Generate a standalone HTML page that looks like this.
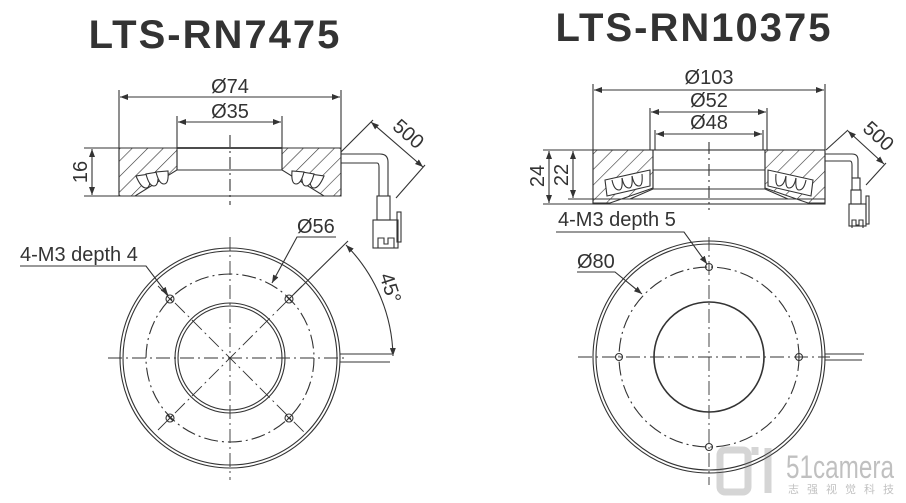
<!DOCTYPE html>
<html><head><meta charset="utf-8"><style>
html,body{margin:0;padding:0;background:#fff;}
svg{display:block;}
text{font-family:"Liberation Sans",Arial,sans-serif;fill:#333;}
</style></head><body>
<svg width="906" height="503" viewBox="0 0 906 503" xmlns="http://www.w3.org/2000/svg">
<defs>
<pattern id="h" patternUnits="userSpaceOnUse" width="11" height="11" patternTransform="rotate(45)">
<rect width="11" height="11" fill="#fff"/><line x1="0" y1="0" x2="0" y2="11" stroke="#333" stroke-width="1.2"/>
</pattern>
<marker id="a" markerWidth="8" markerHeight="6" refX="8" refY="3" orient="auto-start-reverse" markerUnits="userSpaceOnUse"><path d="M0,0 L8,3 L0,6z" fill="#333"/></marker>
</defs>
<g stroke="#333" fill="none" stroke-width="1.1">
<!-- titles -->
<text x="215" y="48" font-size="40" font-weight="bold" text-anchor="middle" stroke="none" fill="#2a2a2a" letter-spacing="2">LTS-RN7475</text>
<text x="694" y="41" font-size="40" font-weight="bold" text-anchor="middle" stroke="none" fill="#2a2a2a" letter-spacing="2">LTS-RN10375</text>

<!-- LEFT SIDE VIEW -->
<line x1="119" y1="90" x2="119" y2="148"/><line x1="341" y1="90" x2="341" y2="148"/>
<line x1="120" y1="97" x2="340" y2="97" marker-start="url(#a)" marker-end="url(#a)"/>
<text x="230" y="93" font-size="20" text-anchor="middle" stroke="none">Ø74</text>
<line x1="177" y1="116" x2="177" y2="148"/><line x1="282" y1="116" x2="282" y2="148"/>
<line x1="178" y1="122" x2="281" y2="122" marker-start="url(#a)" marker-end="url(#a)"/>
<text x="230" y="118" font-size="20" text-anchor="middle" stroke="none">Ø35</text>
<path d="M119,148 H177 V170 L135,196 H119 Z" fill="url(#h)"/>
<path d="M341,148 H282 V170 L324,196 H341 Z" fill="url(#h)"/>
<rect x="119" y="148" width="222" height="48" rx="2"/>
<line x1="177" y1="148" x2="282" y2="148" stroke-width="1.8"/>
<line x1="177" y1="170" x2="282" y2="170"/>
<line x1="177" y1="150" x2="177" y2="170"/><line x1="282" y1="150" x2="282" y2="170"/>
<g fill="#fff"><path d="M136,176 q5,12 10,12 q5,0 4,-14z"/><path d="M146,174 q3,12 8,12 q5,0 4,-14z"/><path d="M156,172 q3,12 8,12 q5,0 4,-13z"/>
<path d="M324,176 q-5,12 -10,12 q-5,0 -4,-14z"/><path d="M314,174 q-3,12 -8,12 q-5,0 -4,-14z"/><path d="M304,172 q-3,12 -8,12 q-5,0 -4,-13z"/></g>
<line x1="230" y1="135" x2="230" y2="205" stroke-dasharray="12,4,2,4"/>
<line x1="84" y1="148" x2="119" y2="148"/><line x1="84" y1="196" x2="119" y2="196"/>
<line x1="92" y1="149" x2="92" y2="195" marker-start="url(#a)" marker-end="url(#a)"/>
<text x="0" y="0" font-size="20" text-anchor="middle" stroke="none" transform="translate(87,172) rotate(-90)">16</text>
<!-- cable -->
<path d="M341,154 H380 q8,0 8,8 V178"/><path d="M341,163 H377 q2,0 2,4 V178"/>
<path d="M379,178 V196 M388,178 V196"/>
<rect x="377" y="196" width="13" height="24"/>
<rect x="373" y="220" width="25" height="28"/>
<path d="M378,248 V238 h6 v6 h4 v-6 h6 v10"/>
<rect x="397" y="212" width="4" height="30"/>
<line x1="341" y1="152" x2="373" y2="120"/><line x1="396" y1="198" x2="425" y2="165"/>
<line x1="371" y1="122" x2="423" y2="167" marker-start="url(#a)" marker-end="url(#a)"/>
<text x="0" y="0" font-size="20" text-anchor="middle" stroke="none" transform="translate(404,139) rotate(41)">500</text>

<!-- LEFT TOP VIEW -->
<circle cx="230" cy="358" r="110"/><circle cx="230" cy="358" r="107"/>
<circle cx="230" cy="358" r="84" stroke-dasharray="14,4,2,4"/>
<circle cx="230" cy="358" r="55"/><circle cx="230" cy="358" r="52"/>
<g stroke-dasharray="14,4,2,4" stroke-width="0.9">
<line x1="108" y1="358" x2="345" y2="358"/><line x1="230" y1="237" x2="230" y2="480"/>
<line x1="158" y1="286" x2="305" y2="433"/><line x1="158" y1="430" x2="302" y2="286"/>
</g>
<g><circle cx="170" cy="299" r="4"/><circle cx="289" cy="299" r="4"/><circle cx="170" cy="418" r="4"/><circle cx="289" cy="418" r="4"/>
<path d="M167,296l6,6M173,296l-6,6M286,296l6,6M292,296l-6,6M167,415l6,6M173,415l-6,6M286,415l6,6M292,415l-6,6"/></g>
<line x1="340" y1="354" x2="392" y2="354"/><line x1="340" y1="362" x2="390" y2="362"/>
<line x1="292" y1="296" x2="348" y2="241"/>
<path d="M346,245 A163,163 0 0 1 393,356" marker-start="url(#a)" marker-end="url(#a)"/>
<text x="0" y="0" font-size="20" text-anchor="middle" stroke="none" transform="translate(384,290) rotate(72)">45°</text>
<text x="20" y="261" font-size="20" stroke="none">4-M3 depth 4</text>
<path d="M20,266 H146 L168,295" marker-end="url(#a)"/>
<text x="297" y="233" font-size="20" stroke="none">Ø56</text>
<path d="M336,237 H297 L272,283" marker-end="url(#a)"/>

<!-- RIGHT SIDE VIEW -->
<line x1="593" y1="84" x2="593" y2="150"/><line x1="825" y1="84" x2="825" y2="150"/>
<line x1="594" y1="90" x2="824" y2="90" marker-start="url(#a)" marker-end="url(#a)"/>
<text x="709" y="84" font-size="20" text-anchor="middle" stroke="none">Ø103</text>
<line x1="650" y1="108" x2="650" y2="150"/><line x1="767" y1="108" x2="767" y2="150"/>
<line x1="651" y1="112" x2="766" y2="112" marker-start="url(#a)" marker-end="url(#a)"/>
<text x="709" y="107" font-size="20" text-anchor="middle" stroke="none">Ø52</text>
<line x1="655" y1="130" x2="655" y2="150"/><line x1="763" y1="130" x2="763" y2="150"/>
<line x1="656" y1="134" x2="762" y2="134" marker-start="url(#a)" marker-end="url(#a)"/>
<text x="709" y="129" font-size="20" text-anchor="middle" stroke="none">Ø48</text>
<path d="M593,150 H653 V188 L610,203 H593 Z" fill="url(#h)"/>
<path d="M825,150 H765 V188 L808,203 H825 Z" fill="url(#h)"/>
<rect x="593" y="150" width="232" height="54"/>
<line x1="653" y1="170" x2="765" y2="170"/><line x1="653" y1="189" x2="765" y2="189"/>
<line x1="653" y1="150" x2="653" y2="189"/><line x1="765" y1="150" x2="765" y2="189"/>
<line x1="653" y1="189" x2="630" y2="199"/><line x1="765" y1="189" x2="788" y2="199"/>
<line x1="593" y1="199" x2="825" y2="199"/>
<g fill="#fff"><path d="M605,180 L650,170 L650,186 L607,196z"/><path d="M813,180 L768,170 L768,186 L811,196z"/></g>
<g><path d="M612,180 q2,10 7,10 q4,0 3,-12"/><path d="M622,178 q2,10 7,10 q4,0 3,-12"/><path d="M632,176 q2,10 7,10 q4,0 3,-12"/>
<path d="M806,180 q-2,10 -7,10 q-4,0 -3,-12"/><path d="M796,178 q-2,10 -7,10 q-4,0 -3,-12"/><path d="M786,176 q-2,10 -7,10 q-4,0 -3,-12"/></g>
<line x1="709" y1="142" x2="709" y2="210" stroke-dasharray="12,4,2,4"/>
<line x1="543" y1="150" x2="593" y2="150"/><line x1="543" y1="204" x2="593" y2="204"/><line x1="568" y1="199" x2="593" y2="199"/>
<line x1="549" y1="151" x2="549" y2="203" marker-start="url(#a)" marker-end="url(#a)"/>
<line x1="573" y1="151" x2="573" y2="198" marker-start="url(#a)" marker-end="url(#a)"/>
<text x="0" y="0" font-size="20" text-anchor="middle" stroke="none" transform="translate(544,176) rotate(-90)">24</text>
<text x="0" y="0" font-size="20" text-anchor="middle" stroke="none" transform="translate(568,175) rotate(-90)">22</text>
<path d="M825,154 H852 q6,0 6,6 V178"/><path d="M825,161 H850 q2,0 2,4 V178"/>
<rect x="852" y="178" width="8" height="12"/>
<rect x="851" y="190" width="10" height="14"/>
<rect x="849" y="204" width="17" height="22"/>
<path d="M852,228 V220 h4 v5 h3 v-5 h4 v8"/>
<rect x="866" y="196" width="3" height="28"/>
<line x1="826" y1="150" x2="848" y2="130"/><line x1="866" y1="185" x2="886" y2="163"/>
<line x1="848" y1="131" x2="884" y2="164" marker-start="url(#a)" marker-end="url(#a)"/>
<text x="0" y="0" font-size="20" text-anchor="middle" stroke="none" transform="translate(874,141) rotate(42)">500</text>

<!-- RIGHT TOP VIEW -->
<circle cx="709" cy="357" r="116"/><circle cx="709" cy="357" r="113"/>
<circle cx="709" cy="357" r="90" stroke-dasharray="14,4,2,4"/>
<circle cx="709" cy="357" r="55" stroke-width="1.6"/>
<g stroke-dasharray="14,4,2,4" stroke-width="0.9">
<line x1="578" y1="357" x2="830" y2="357"/><line x1="709" y1="237" x2="709" y2="485"/></g>
<circle cx="709" cy="267" r="3.5"/><circle cx="619" cy="357" r="3.5"/><circle cx="799" cy="357" r="3.5"/><circle cx="709" cy="447" r="3.5"/>
<line x1="825" y1="354" x2="864" y2="354"/><line x1="825" y1="360" x2="862" y2="360"/>
<text x="558" y="226" font-size="20" stroke="none">4-M3 depth 5</text>
<path d="M556,232 H684 L707,264" marker-end="url(#a)"/>
<text x="577" y="268" font-size="20" stroke="none">Ø80</text>
<path d="M577,272 H615 L642,294" marker-end="url(#a)"/>
</g>
<!-- watermark -->
<g opacity="0.3" fill="none" stroke="#777" stroke-width="7">
<rect x="720" y="450" width="28" height="42" rx="5"/>
<path d="M755,455 v-8 M768,448 v45"/>
<text x="786" y="478" font-size="32" fill="#777" stroke="none" font-family="Liberation Sans,sans-serif" textLength="108" lengthAdjust="spacingAndGlyphs">51camera</text>
<text x="788" y="493" font-size="11" fill="#777" stroke="none" font-family="'Noto Sans CJK SC',sans-serif" letter-spacing="8">志强视觉科技</text>
</g>
</svg>
</body></html>
